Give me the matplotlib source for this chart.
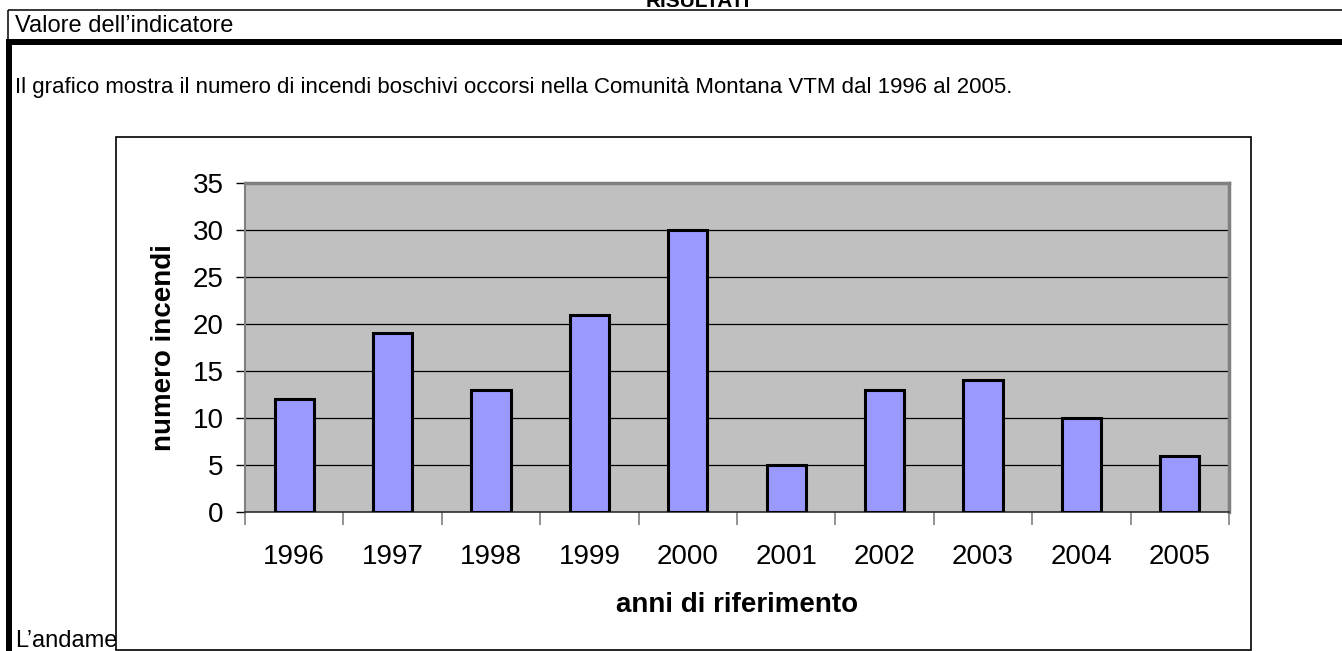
import numpy as np
import matplotlib
matplotlib.use('Agg')
import matplotlib.pyplot as plt
from matplotlib.patches import Rectangle

plt.rcParams['font.family'] = ['Liberation Sans', 'DejaVu Sans']

# dati
anni = ['1996', '1997', '1998', '1999', '2000', '2001', '2002', '2003', '2004', '2005']
incendi = [12, 19, 13, 21, 30, 5, 13, 14, 10, 6]
yticks = [0, 5, 10, 15, 20, 25, 30, 35]

W, H = 1342, 651
fig = plt.figure(figsize=(W / 100, H / 100), dpi=100)

# pagina di sfondo in coordinate pixel
bg = fig.add_axes([0, 0, 1, 1])
bg.set_xlim(0, W)
bg.set_ylim(H, 0)
bg.axis('off')

bg.text(698, 7, 'RISULTATI', fontsize=15, fontweight='bold', ha='center', va='baseline')
bg.plot([8, W], [10, 10], color='black', lw=1.1, solid_capstyle='butt')
bg.plot([8, 8], [10, 42], color='black', lw=1.1, solid_capstyle='butt')
bg.plot([6, W], [41.5, 41.5], color='black', lw=4.3, solid_capstyle='butt')
bg.plot([9, 9], [39, H], color='black', lw=4.3, solid_capstyle='butt')

bg.text(15, 32, 'Valore dell\u2019indicatore', fontsize=17, va='baseline')
bg.text(15, 93, 'Il grafico mostra il numero di incendi boschivi occorsi nella '
        'Comunit\u00e0 Montana VTM dal 1996 al 2005.', fontsize=16, va='baseline')
bg.text(15, 647, 'L\u2019andamento', fontsize=17, va='baseline', zorder=1)

# riquadro del grafico
bg.add_patch(Rectangle((115.7, 137), 1250.7 - 115.7, 650 - 137, facecolor='white',
                       edgecolor='black', lw=1.2, zorder=3))

# grafico
ax = fig.add_axes([245 / W, 1 - 512 / H, (1229 - 245) / W, (512 - 183) / H])
ax.set_facecolor('#C0C0C0')
x = np.arange(len(anni))
ax.bar(x, incendi, width=0.4, color='#9999FF', edgecolor='black', linewidth=2.2, zorder=3)

ax.set_xlim(-0.5, len(anni) - 0.5)
ax.set_ylim(0, 35)
ax.set_yticks(yticks)
ax.yaxis.grid(True, color='black', lw=0.9)
ax.set_axisbelow(True)

ax.set_xticks(x)
ax.set_xticklabels(anni)
ax.set_xticks(np.arange(-0.5, len(anni)), minor=True)
ax.tick_params(axis='x', which='major', length=0, labelsize=20, pad=23)
ax.tick_params(axis='x', which='minor', length=9, width=1.2, color='#808080')
ax.tick_params(axis='y', length=6.5, width=1, color='black', labelsize=20, pad=9)

for s in ['top', 'right']:
    ax.spines[s].set_color('#808080')
    ax.spines[s].set_linewidth(2.5)
ax.spines['left'].set_color('#808080')
ax.spines['left'].set_linewidth(1.5)
ax.spines['bottom'].set_color('#303030')
ax.spines['bottom'].set_linewidth(1.2)

ax.set_xlabel('anni di riferimento', fontsize=20, fontweight='bold')
ax.set_ylabel('numero incendi', fontsize=20, fontweight='bold')
ax.xaxis.set_label_coords(0.5, -0.243)
ax.yaxis.set_label_coords(-0.069, 0.5)

fig.savefig('out.png', dpi=100)
